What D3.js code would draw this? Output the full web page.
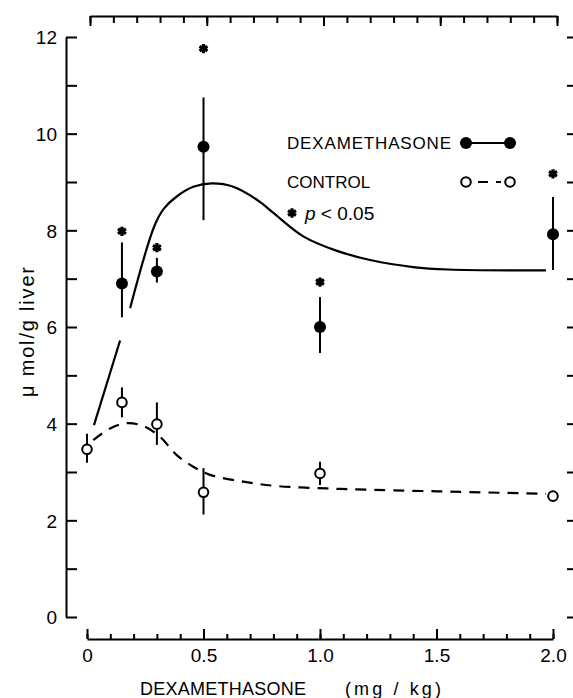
<!DOCTYPE html>
<html><head><meta charset="utf-8">
<script src="https://cdn.jsdelivr.net/npm/d3@7"></script>
<style>body{margin:0;background:#fff}svg{display:block}text{font-family:"Liberation Sans",Arial,sans-serif;fill:#000}</style>
</head><body>
<script>
// ---- data ----
const dexDoses = [0.15, 0.3, 0.5, 1.0, 2.0];
const dexMean  = [6.9, 7.15, 9.73, 6.0, 7.92];
const dexHigh  = [7.75, 7.43, 10.75, 6.62, 8.69];
const dexLow   = [6.2, 6.92, 8.21, 5.46, 7.18];
const starY    = [7.98, 7.64, 11.76, 6.93, 9.17];
const ctlDoses = [0, 0.15, 0.3, 0.5, 1.0, 2.0];
const ctlMean  = [3.47, 4.44, 3.99, 2.58, 2.97, 2.5];
const ctlHigh  = [3.79, 4.75, 4.44, 3.08, 3.21, 2.5];
const ctlLow   = [3.19, 4.13, 3.56, 2.12, 2.73, 2.5];
const dexCurveA = [[0.03, 3.97], [0.142, 5.72]];
const dexCurveB = [[0.185, 6.39], [0.29, 8.1], [0.33, 8.45], [0.385, 8.70], [0.456, 8.90], [0.535, 8.97],
  [0.628, 8.90], [0.742, 8.59], [0.80, 8.36], [0.93, 7.87], [1.07, 7.58], [1.22, 7.38], [1.40, 7.24],
  [1.55, 7.19], [1.97, 7.17]];
const ctlCurve = [[0.027, 3.66], [0.099, 3.90], [0.17, 4.01], [0.242, 3.95], [0.313, 3.73], [0.385, 3.35],
  [0.456, 3.11], [0.528, 2.94], [0.671, 2.80], [0.814, 2.71], [1.029, 2.66], [1.157, 2.64], [1.5, 2.6], [1.97, 2.55]];
const yTicks = [0, 2, 4, 6, 8, 10, 12];
const xTicks = [0, 0.5, 1.0, 1.5, 2.0];
const xTickLabels = ["0", "0.5", "1.0", "1.5", "2.0"];
const legendLabels = ["DEXAMETHASONE", "CONTROL"];

const W = 573, H = 698;
const svg = d3.select("body").append("svg").attr("width", W).attr("height", H);
const x = d3.scaleLinear().domain([0, 2]).range([87, 553]);
const xTop = d3.scaleLinear().domain([0, 2]).range([90, 557]);
const y = d3.scaleLinear().domain([0, 12]).range([617, 37]);
const minor = d3.range(0, 2.0001, 0.1).map(v => +v.toFixed(1));
const units = d3.range(0, 13);

function clean(g) { g.selectAll(".tick line").attr("stroke", "#000").attr("stroke-width", 2); return g; }

// left axis: line + inward ticks
svg.append("g").attr("transform", "translate(66,0)")
  .call(d3.axisRight(y).tickValues(units).tickSize(11).tickSizeOuter(0).tickFormat(""))
  .call(g => g.select(".domain").attr("stroke", "#000").attr("stroke-width", 2))
  .call(clean);
svg.append("g").attr("transform", "translate(66,0)")
  .call(d3.axisLeft(y).tickValues(yTicks).tickSize(0).tickPadding(9).tickFormat(d3.format("d")))
  .call(g => g.select(".domain").remove())
  .call(g => g.selectAll("text").style("font-size", "19px").attr("dy", "0.36em"));

// right ticks
svg.append("g").attr("transform", "translate(573,0)")
  .call(d3.axisLeft(y).tickValues(units).tickSize(6).tickFormat(""))
  .call(g => g.select(".domain").remove())
  .call(clean);

// bottom axis
const by = 639;
svg.append("g").attr("transform", `translate(0,${by})`)
  .call(d3.axisTop(x).tickValues(minor).tickSize(5).tickSizeOuter(0).tickFormat(""))
  .call(g => g.select(".domain").attr("stroke", "#000").attr("stroke-width", 2))
  .call(clean);
svg.append("g").attr("transform", `translate(0,${by})`)
  .call(d3.axisTop(x).tickValues(xTicks).tickSize(10).tickFormat(""))
  .call(g => g.select(".domain").remove())
  .call(clean);
svg.append("g").attr("transform", `translate(0,${by})`)
  .call(d3.axisBottom(x).tickValues(xTicks).tickSize(0).tickPadding(10).tickFormat((d, i) => xTickLabels[i]))
  .call(g => g.select(".domain").remove())
  .call(g => g.selectAll("text").style("font-size", "19px"));

// top axis
svg.append("g").attr("transform", "translate(0,16)")
  .call(d3.axisBottom(xTop).tickValues(minor).tickSize(7).tickSizeOuter(0).tickFormat(""))
  .call(g => g.select(".domain").attr("stroke", "#000").attr("stroke-width", 2))
  .call(clean);
svg.append("g").attr("transform", "translate(0,16)")
  .call(d3.axisBottom(xTop).tickValues(xTicks).tickSize(10).tickFormat(""))
  .call(g => g.select(".domain").remove())
  .call(clean);

// axis titles
svg.append("text").attr("x", 140).attr("y", 695).attr("textLength", 166)
  .style("font-size", "18px").text("DEXAMETHASONE");
svg.append("text").attr("x", 345).attr("y", 695).attr("textLength", 96).attr("xml:space", "preserve")
  .style("font-size", "18px").text("(mg / kg)");
svg.append("text").attr("transform", "translate(34,332) rotate(-90)").attr("text-anchor", "middle")
  .attr("textLength", 130).style("font-size", "20px").text("\u03bc mol/g liver");

// curves
const line = d3.line().x(d => x(d[0])).y(d => y(d[1])).curve(d3.curveCatmullRom.alpha(0.5));
[dexCurveA, dexCurveB].forEach(c => svg.append("path").attr("d", line(c))
  .attr("fill", "none").attr("stroke", "#000").attr("stroke-width", 2.2));
svg.append("path").attr("d", line(ctlCurve)).attr("fill", "none").attr("stroke", "#000")
  .attr("stroke-width", 2.2).attr("stroke-dasharray", "11,8");

// error bars
dexDoses.forEach((d, i) => svg.append("line").attr("x1", x(d)).attr("x2", x(d))
  .attr("y1", y(dexHigh[i])).attr("y2", y(dexLow[i])).attr("stroke", "#000").attr("stroke-width", 2));
ctlDoses.forEach((d, i) => svg.append("line").attr("x1", x(d)).attr("x2", x(d))
  .attr("y1", y(ctlHigh[i])).attr("y2", y(ctlLow[i])).attr("stroke", "#000").attr("stroke-width", 2));

// points
svg.selectAll(".dex").data(dexDoses).join("circle").attr("cx", d => x(d))
  .attr("cy", (d, i) => y(dexMean[i])).attr("r", 6).attr("fill", "#000");
svg.selectAll(".ctl").data(ctlDoses).join("circle").attr("cx", d => x(d))
  .attr("cy", (d, i) => y(ctlMean[i])).attr("r", 4.8).attr("fill", "#fff").attr("stroke", "#000").attr("stroke-width", 2);

// stars
const star = d3.symbol(d3.symbolAsterisk, 60)();
svg.selectAll(".star").data(dexDoses).join("path").attr("d", star)
  .attr("transform", (d, i) => `translate(${x(d)},${y(starY[i])})`)
  .attr("fill", "none").attr("stroke", "#000").attr("stroke-width", 3.2);

// legend
const lx = 287, ly = [143, 182, 213], m1 = 466, m2 = 510;
svg.append("text").attr("x", lx).attr("y", ly[0] + 6).attr("textLength", 164).style("font-size", "17px").text(legendLabels[0]);
svg.append("text").attr("x", lx).attr("y", ly[1] + 6).style("font-size", "17px").text(legendLabels[1]);
svg.append("line").attr("x1", m1).attr("x2", m2).attr("y1", ly[0]).attr("y2", ly[0]).attr("stroke", "#000").attr("stroke-width", 2.2);
[m1, m2].forEach(v => svg.append("circle").attr("cx", v).attr("cy", ly[0]).attr("r", 6).attr("fill", "#000"));
svg.append("line").attr("x1", m1 + 9).attr("x2", m2 - 9).attr("y1", ly[1]).attr("y2", ly[1]).attr("stroke", "#000")
  .attr("stroke-width", 2.2).attr("stroke-dasharray", "10,8").attr("stroke-dashoffset", -3);
[m1, m2].forEach(v => svg.append("circle").attr("cx", v).attr("cy", ly[1]).attr("r", 4.8).attr("fill", "#fff").attr("stroke", "#000").attr("stroke-width", 2));
svg.append("path").attr("d", star).attr("transform", `translate(${lx + 5},${ly[2]})`)
  .attr("fill", "none").attr("stroke", "#000").attr("stroke-width", 3.2);
const pt = svg.append("text").attr("x", lx + 18).attr("y", ly[2] + 7).style("font-size", "19px");
pt.append("tspan").style("font-style", "italic").text("p");
pt.append("tspan").text(" < 0.05");
</script>
</body></html>
